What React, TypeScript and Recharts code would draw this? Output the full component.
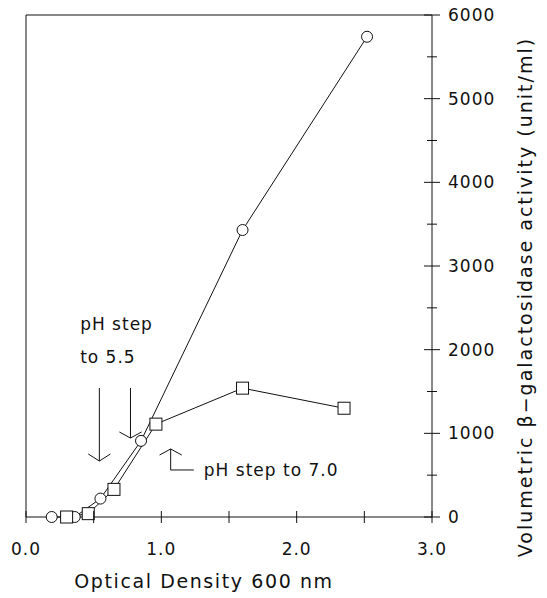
import { LineChart, Line, XAxis, YAxis, ReferenceLine, ReferenceDot } from 'recharts';

const circleOD = [0.19, 0.36, 0.55, 0.85, 1.6, 2.52];
const circleActivity = [0, 0, 220, 910, 3430, 5740];
const squareOD = [0.3, 0.46, 0.65, 0.96, 1.6, 2.35];
const squareActivity = [0, 40, 330, 1110, 1540, 1300];
const xTicks = [0, 0.5, 1, 1.5, 2, 2.5, 3];
const yTicks = [0, 500, 1000, 1500, 2000, 2500, 3000, 3500, 4000, 4500, 5000, 5500, 6000];

const circles = circleOD.map((x, i) => ({ x, y: circleActivity[i] }));
const squares = squareOD.map((x, i) => ({ x, y: squareActivity[i] }));

// arrow segments for the pH annotations, in data units
const arrows = [
  [{ x: 0.542, y: 1542 }, { x: 0.542, y: 669 }],
  [{ x: 0.46, y: 753 }, { x: 0.542, y: 669 }],
  [{ x: 0.624, y: 753 }, { x: 0.542, y: 669 }],
  [{ x: 0.772, y: 1542 }, { x: 0.772, y: 944 }],
  [{ x: 0.69, y: 1016 }, { x: 0.772, y: 944 }],
  [{ x: 0.854, y: 1016 }, { x: 0.772, y: 944 }],
  [{ x: 1.069, y: 562 }, { x: 1.069, y: 813 }],
  [{ x: 0.987, y: 741 }, { x: 1.069, y: 813 }],
  [{ x: 1.151, y: 741 }, { x: 1.069, y: 813 }],
  [{ x: 1.069, y: 562 }, { x: 1.24, y: 562 }],
];

const font = '"DejaVu Sans", sans-serif';
const ink = '#111';

const XTick = (props: any) => {
  const { x, y, payload } = props;
  const major = Number.isInteger(payload.value);
  return (
    <g>
      <line x1={x} x2={x} y1={y - 6} y2={y + 6} stroke={ink} />
      {major && (
        <text x={x} y={y + 38} textAnchor="middle" fontFamily={font} fontSize={17} fill={ink} letterSpacing={1}>
          {payload.value.toFixed(1)}
        </text>
      )}
    </g>
  );
};

const YTick = (props: any) => {
  const { x, y, payload } = props;
  const major = payload.value % 1000 === 0;
  const len = major ? 8 : 5;
  return (
    <g>
      <line x1={x - len} x2={x + len} y1={y} y2={y} stroke={ink} />
      {major && (
        <text x={x + 16} y={y + 6} textAnchor="start" fontFamily={font} fontSize={17} fill={ink} letterSpacing={1}>
          {payload.value}
        </text>
      )}
    </g>
  );
};

const Square = (props: any) => {
  const { cx, cy, index } = props;
  return <rect key={index} x={cx - 6} y={cy - 6} width={12} height={12} fill="#fff" stroke={ink} />;
};

const Note = (text: string) => (props: any) => (
  <text x={props.cx} y={props.cy + 6} fontFamily={font} fontSize={17} fill={ink} letterSpacing={1}>
    {text}
  </text>
);

const YLabel = (props: any) => {
  const vb = props.viewBox;
  const cx = vb.x + vb.width;
  const cy = vb.y + vb.height / 2 + 31;
  return (
    <text
      x={cx}
      y={cy}
      transform={`rotate(-90, ${cx}, ${cy})`}
      textAnchor="middle"
      fontFamily={font}
      fontSize={19}
      fill={ink}
      letterSpacing={2}
    >
      Volumetric β−galactosidase activity (unit/ml)
    </text>
  );
};

export default function App() {
  return (
    <div style={{ position: 'absolute', left: 0, top: 0, background: '#fff' }}>
      <LineChart width={547} height={598} margin={{ top: 15, right: 15, left: 26, bottom: 0 }}>
        <XAxis
          type="number"
          dataKey="x"
          domain={[0, 3]}
          ticks={xTicks}
          tick={XTick}
          tickSize={0}
          tickMargin={0}
          height={81}
          axisLine={{ stroke: ink }}
          tickLine={false}
          allowDataOverflow
          label={{
            value: 'Optical Density 600 nm',
            position: 'insideBottom',
            offset: 10,
            dx: -25,
            fontFamily: font,
            fontSize: 19,
            fill: ink,
            letterSpacing: 1.6,
          }}
        />
        <YAxis
          type="number"
          dataKey="y"
          orientation="right"
          domain={[0, 6000]}
          ticks={yTicks}
          tick={YTick}
          tickSize={0}
          tickMargin={0}
          width={100}
          axisLine={{ stroke: ink }}
          tickLine={false}
          interval={0}
          label={<YLabel />}
        />
        <ReferenceLine x={0} stroke={ink} />
        <ReferenceLine y={6000} stroke={ink} />
        {arrows.map((seg, i) => (
          <ReferenceLine key={i} segment={seg} stroke={ink} />
        ))}
        <ReferenceDot x={0.4} y={2307} r={0} shape={Note('pH step')} />
        <ReferenceDot x={0.4} y={1912} r={0} shape={Note('to 5.5')} />
        <ReferenceDot x={1.314} y={562} r={0} shape={Note('pH step to 7.0')} />
        <Line
          data={circles}
          dataKey="y"
          stroke={ink}
          strokeWidth={1}
          dot={{ r: 5.5, fill: '#fff', stroke: ink, strokeWidth: 1 }}
          isAnimationActive={false}
        />
        <Line
          data={squares}
          dataKey="y"
          stroke={ink}
          strokeWidth={1}
          dot={Square}
          isAnimationActive={false}
        />
      </LineChart>
    </div>
  );
}
